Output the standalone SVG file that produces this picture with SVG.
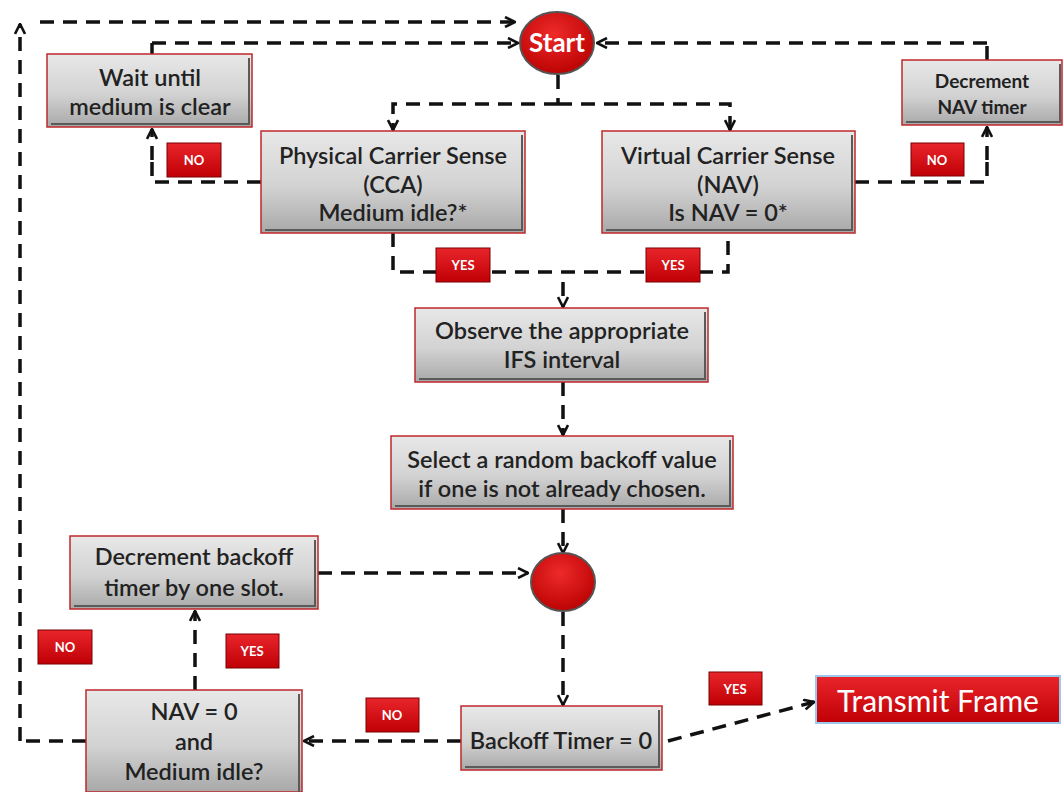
<svg xmlns="http://www.w3.org/2000/svg" width="1063" height="792" viewBox="0 0 1063 792">
<defs>
<linearGradient id="gbox" x1="0" y1="0" x2="0" y2="1">
<stop offset="0" stop-color="#e8e8e8"/><stop offset="0.55" stop-color="#d2d2d2"/><stop offset="1" stop-color="#a8a8a8"/>
</linearGradient>
<linearGradient id="gred" x1="0" y1="0" x2="0" y2="1">
<stop offset="0" stop-color="#e8252b"/><stop offset="1" stop-color="#c00006"/>
</linearGradient>
<radialGradient id="gcirc" cx="0.45" cy="0.35" r="0.7">
<stop offset="0" stop-color="#ee2a2a"/><stop offset="1" stop-color="#b80000"/>
</radialGradient>
<marker id="arr" viewBox="0 0 12 12" refX="11" refY="6" markerWidth="12" markerHeight="12" markerUnits="userSpaceOnUse" orient="auto">
<path d="M1,1 L11,6 L1,11" fill="none" stroke="#111" stroke-width="2.6"/>
</marker>
</defs>
<style>
.box{fill:url(#gbox);stroke:#c0282d;stroke-width:1.5}
.bev{fill:none;stroke:#5a5a5a;stroke-width:2}
.lbl{fill:url(#gred);stroke:#7a0000;stroke-width:1}
.t{font-family:Lato,"Open Sans","Liberation Sans",sans-serif;font-size:23.5px;fill:#222;text-anchor:middle;font-weight:600}
.ts{font-family:Lato,"Open Sans","Liberation Sans",sans-serif;font-size:19px;fill:#222;text-anchor:middle;font-weight:700}
.tl{font-family:Lato,"Open Sans","Liberation Sans",sans-serif;font-size:13px;fill:#fff;text-anchor:middle;font-weight:700}
.tw{font-family:Lato,"Open Sans","Liberation Sans",sans-serif;fill:#fff;text-anchor:middle}
.c{fill:none;stroke:#111;stroke-width:3.5;stroke-dasharray:14 9}
.ca{fill:none;stroke:#111;stroke-width:3.5;stroke-dasharray:14 9;marker-end:url(#arr)}
</style>
<rect width="1063" height="792" fill="#fff"/>

<g id="connectors">
<path class="ca" d="M20,741 L20,24"/>
<path class="ca" d="M40,22 L515,22"/>
<path class="c" d="M152,54 L152,43"/>
<path class="ca" d="M152,43 L518,43"/>
<path class="c" d="M261,182 L152,182 L152,160"/>
<path class="ca" d="M152,160 L152,129"/>
<path class="c" d="M987,60 L987,43"/>
<path class="ca" d="M987,43 L597,43"/>
<path class="c" d="M855,182 L987,182 L987,160"/>
<path class="ca" d="M987,160 L987,127"/>
<path class="c" d="M558,75 L558,104"/>
<path class="ca" d="M558,104 L393,104 L393,130"/>
<path class="ca" d="M558,104 L730,104 L730,130"/>
<path class="c" d="M393,233 L393,272 L728,272 L728,233"/>
<path class="ca" d="M563,282 L563,307"/>
<path class="ca" d="M563,382 L563,435"/>
<path class="ca" d="M563,509 L563,553"/>
<path class="ca" d="M318,573 L528,573"/>
<path class="ca" d="M563,612 L563,705"/>
<path class="ca" d="M461,741 L304,741"/>
<path class="ca" d="M195,690 L195,611"/>
<path class="c" d="M86,741 L20,741"/>
<path class="ca" d="M668,741 L814,702"/>
</g>

<g id="start">
<ellipse cx="557" cy="43" rx="37" ry="31" fill="url(#gcirc)" stroke="#555" stroke-width="2"/>
<text class="tw" x="557" y="52" font-size="26" font-weight="700">Start</text>
</g>

<g id="wait">
<rect class="box" x="47" y="54" width="205" height="73"/>
<path class="bev" d="M249,58 L249,124 L51,124"/>
<text class="t" x="150" y="86">Wait until</text>
<text class="t" x="150" y="115">medium is clear</text>
</g>

<g id="physical">
<rect class="box" x="261" y="131" width="264" height="102"/>
<path class="bev" d="M522,135 L522,230 L265,230"/>
<text class="t" x="393" y="164">Physical Carrier Sense</text>
<text class="t" x="393" y="193">(CCA)</text>
<text class="t" x="393" y="221">Medium idle?*</text>
</g>

<g id="virtual">
<rect class="box" x="602" y="131" width="253" height="102"/>
<path class="bev" d="M852,135 L852,230 L606,230"/>
<text class="t" x="728" y="164">Virtual Carrier Sense</text>
<text class="t" x="728" y="193">(NAV)</text>
<text class="t" x="728" y="221">Is NAV = 0*</text>
</g>

<g id="decnav">
<rect class="box" x="902" y="60" width="160" height="65"/>
<path class="bev" d="M1060,64 L1060,122 L906,122"/>
<text class="ts" x="982" y="88">Decrement</text>
<text class="ts" x="982" y="114">NAV timer</text>
</g>

<g id="observe">
<rect class="box" x="415" y="308" width="293" height="74"/>
<path class="bev" d="M705,312 L705,379 L419,379"/>
<text class="t" x="562" y="339">Observe the appropriate</text>
<text class="t" x="562" y="368">IFS interval</text>
</g>

<g id="select">
<rect class="box" x="391" y="436" width="342" height="73"/>
<path class="bev" d="M730,440 L730,506 L395,506"/>
<text class="t" x="562" y="468">Select a random backoff value</text>
<text class="t" x="562" y="497">if one is not already chosen.</text>
</g>

<g id="junction">
<ellipse cx="563" cy="582" rx="32" ry="29" fill="url(#gcirc)" stroke="#555" stroke-width="2"/>
</g>

<g id="decbackoff">
<rect class="box" x="70" y="536" width="248" height="73"/>
<path class="bev" d="M315,540 L315,606 L74,606"/>
<text class="t" x="194" y="565">Decrement backoff</text>
<text class="t" x="194" y="596">timer by one slot.</text>
</g>

<g id="navidle">
<rect class="box" x="86" y="690" width="216" height="102"/>
<path class="bev" d="M299,694 L299,792"/>
<text class="t" x="194" y="720">NAV = 0</text>
<text class="t" x="194" y="750">and</text>
<text class="t" x="194" y="780">Medium idle?</text>
</g>

<g id="backoff">
<rect class="box" x="461" y="706" width="201" height="64"/>
<path class="bev" d="M659,710 L659,767 L465,767"/>
<text class="t" x="561" y="749">Backoff Timer = 0</text>
</g>

<g id="transmit">
<rect x="816" y="676" width="244" height="47" fill="url(#gred)" stroke="#9cc8ec" stroke-width="2"/>
<text class="tw" x="938" y="712" font-size="30">Transmit Frame</text>
</g>

<g id="labels">
<rect class="lbl" x="167" y="143" width="54" height="34"/><text class="tl" x="194" y="165">NO</text>
<rect class="lbl" x="911" y="143" width="53" height="33"/><text class="tl" x="937" y="165">NO</text>
<rect class="lbl" x="436" y="248" width="54" height="34"/><text class="tl" x="463" y="270">YES</text>
<rect class="lbl" x="646" y="248" width="54" height="34"/><text class="tl" x="673" y="270">YES</text>
<rect class="lbl" x="38" y="630" width="54" height="34"/><text class="tl" x="65" y="652">NO</text>
<rect class="lbl" x="226" y="634" width="53" height="34"/><text class="tl" x="252" y="656">YES</text>
<rect class="lbl" x="366" y="698" width="53" height="34"/><text class="tl" x="392" y="720">NO</text>
<rect class="lbl" x="709" y="672" width="53" height="33"/><text class="tl" x="735" y="694">YES</text>
</g>
</svg>
